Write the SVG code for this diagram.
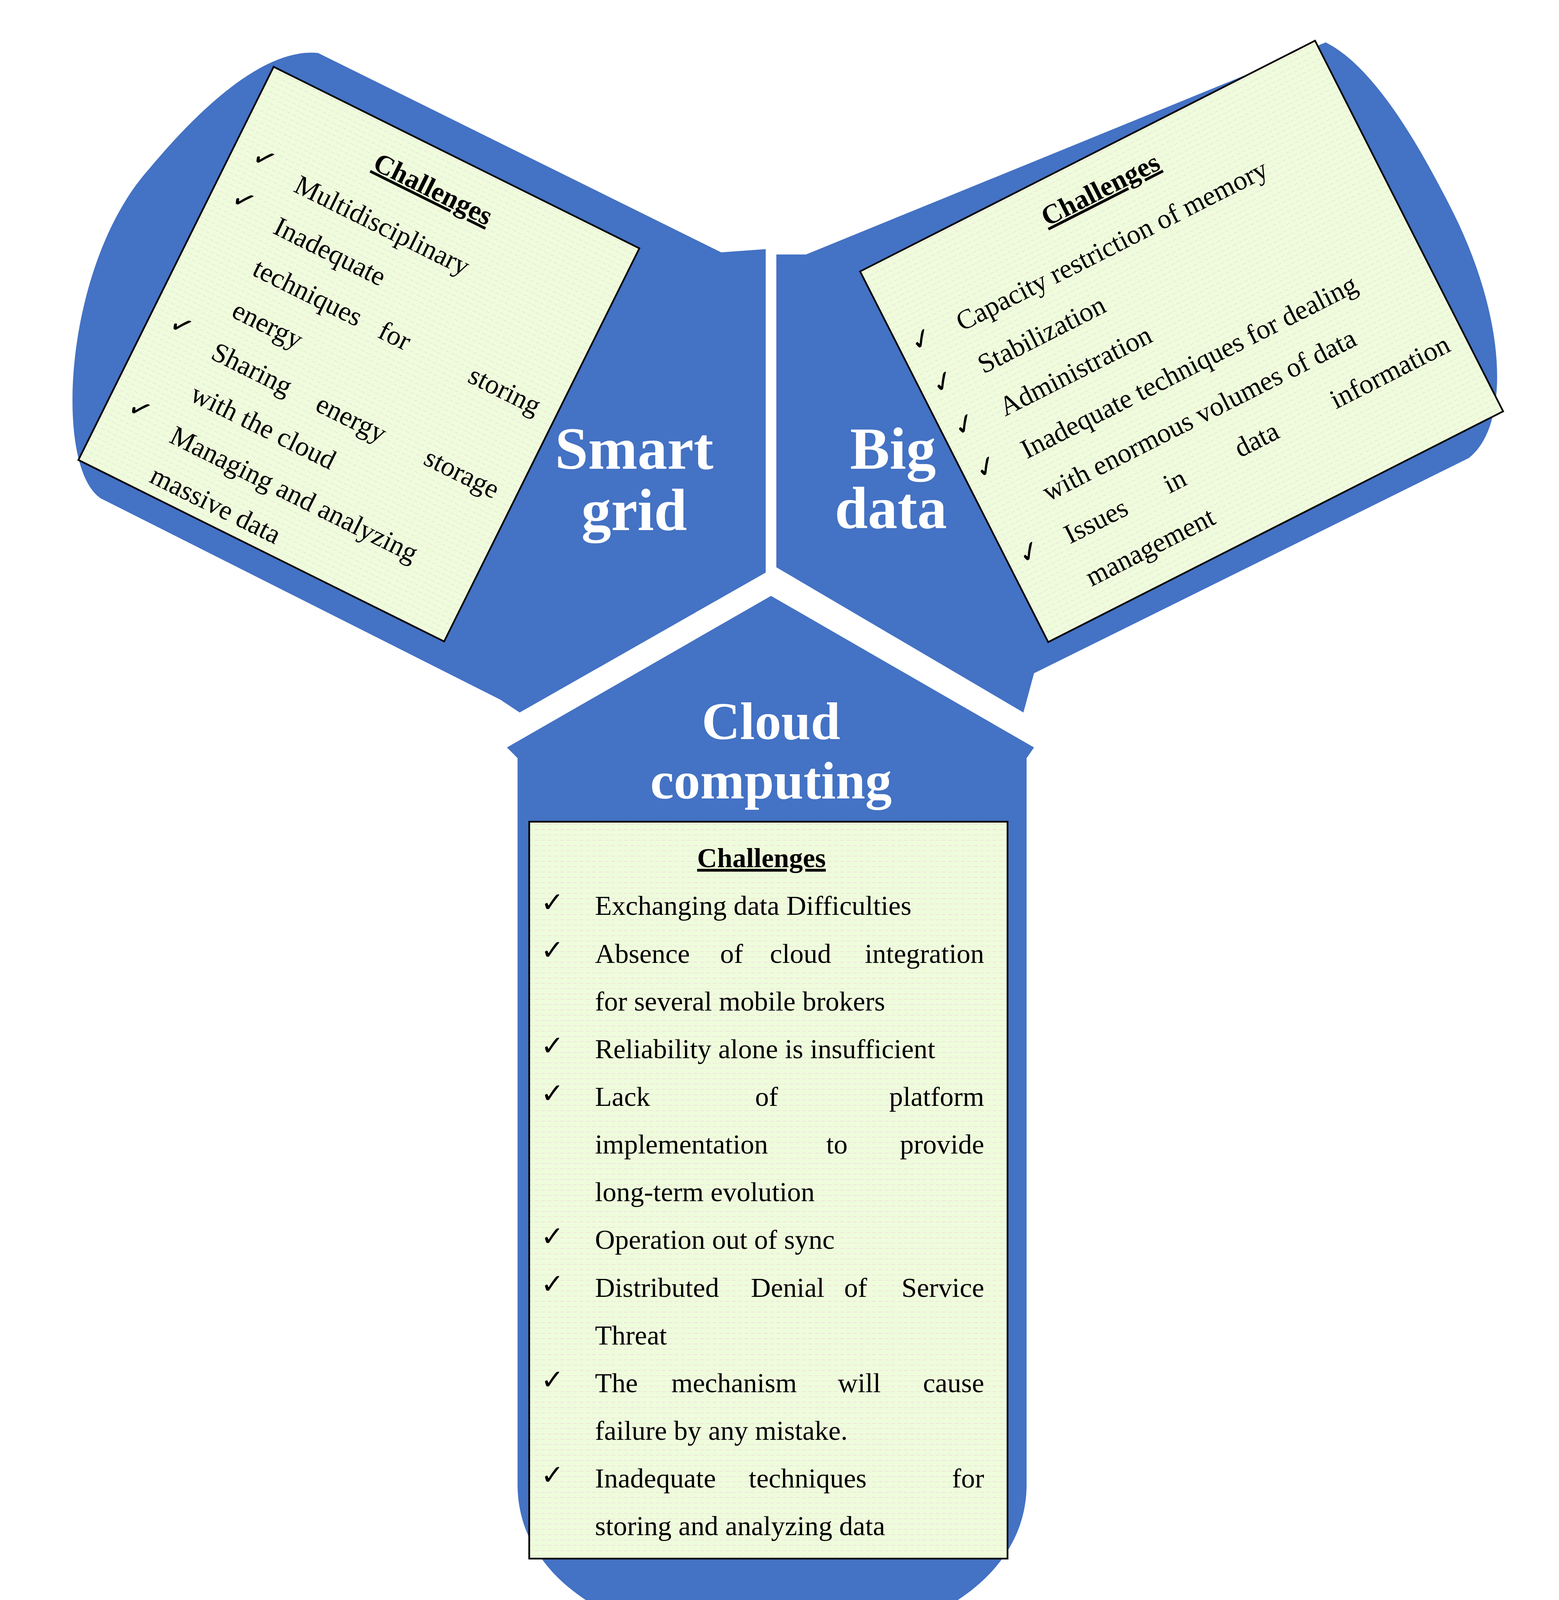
<svg xmlns="http://www.w3.org/2000/svg" width="3990" height="4257" viewBox="0 0 3990 4257">
<style>
.blob{fill:#4472C4}
.box{fill:url(#lines);stroke:#000;stroke-width:1.6}
.t{font-family:"Liberation Serif",serif;font-size:26px;fill:#000}
.h{font-family:"Liberation Serif",serif;font-size:26px;font-weight:bold;text-decoration:underline;fill:#000}
.ck{font-family:"DejaVu Sans",sans-serif;font-size:26px;font-weight:bold;fill:#000}
.ti{font-family:"Liberation Serif",serif;font-weight:bold;fill:#fff;text-anchor:middle}
.e{text-anchor:end}
</style>
<defs>
<pattern id="lines" width="6" height="5" patternUnits="userSpaceOnUse">
<rect width="6" height="5" fill="#EEFCDC"/>
<line x1="0" y1="2.5" x2="4" y2="2.5" stroke="#F0E6DC" stroke-width="0.8"/>
</pattern>
</defs>
<rect width="3990" height="4257" fill="#fff"/>
<g transform="scale(2.7143)">
<g id="smart-grid">
<path class="blob" d="M722,235 L722,540 L490,672 L472,660 L95,470 C50,440 60,250 140,160 C190,100 250,45 300,50 L680,238 Z"/>
<text class="ti" x="598" y="442" font-size="56">Smart</text>
<text class="ti" x="598" y="500" font-size="56">grid</text>
<g transform="translate(258,63) rotate(26.4)">
<rect class="box" x="0" y="0" width="385" height="414"/>
<text class="h" x="186" y="45" text-anchor="middle">Challenges</text>
<text class="ck" x="20" y="90">✓</text>
<text class="t" x="68" y="97">Multidisciplinary</text>
<text class="ck" x="20" y="134">✓</text>
<text class="t" x="68" y="141">Inadequate</text>
<text class="t" x="68" y="185">techniques</text><text class="t" x="200" y="185">for</text><text class="t e" x="367" y="185">storing</text>
<text class="t" x="68" y="229">energy</text>
<text class="ck" x="20" y="266">✓</text>
<text class="t" x="68" y="273">Sharing</text><text class="t" x="178" y="273">energy</text><text class="t e" x="367" y="273">storage</text>
<text class="t" x="68" y="317">with the cloud</text>
<text class="ck" x="20" y="354">✓</text>
<text class="t" x="68" y="361">Managing and analyzing</text>
<text class="t" x="68" y="403">massive data</text>
</g>
</g>
<g id="big-data">
<path class="blob" d="M732,240 L732,535 L965,672 L975,635 L1385,432 C1425,400 1420,300 1370,200 C1330,120 1290,60 1250,40 L760,240 Z"/>
<text class="ti" x="842" y="442" font-size="56">Big</text>
<text class="ti" x="840" y="498" font-size="56">data</text>
<g transform="translate(811,256) rotate(-26.9)">
<rect class="box" x="0" y="0" width="481" height="392"/>
<text class="h" x="237" y="42" text-anchor="middle">Challenges</text>
<text class="ck" x="12" y="92">✓</text>
<text class="t" x="60" y="94">Capacity restriction of memory</text>
<text class="ck" x="12" y="137">✓</text>
<text class="t" x="60" y="139">Stabilization</text>
<text class="ck" x="12" y="182">✓</text>
<text class="t" x="60" y="184">Administration</text>
<text class="ck" x="12" y="227">✓</text>
<text class="t" x="60" y="229">Inadequate techniques for dealing</text>
<text class="t" x="60" y="274">with enormous volumes of data</text>
<text class="ck" x="12" y="317">✓</text>
<text class="t" x="60" y="319">Issues</text><text class="t" x="165" y="319">in</text><text class="t" x="240" y="319">data</text><text class="t e" x="464" y="319">information</text>
<text class="t" x="60" y="364">management</text>
</g>
</g>
<g id="cloud-computing">
<path class="blob" d="M727,562 L975,705 L968,715 L968,1400 C968,1500 850,1555 727,1555 C605,1555 488,1500 488,1400 L488,715 L478,705 Z"/>
<text class="ti" x="727" y="697" font-size="50">Cloud</text>
<text class="ti" x="727" y="753" font-size="50">computing</text>
<rect class="box" x="499" y="775" width="451" height="695"/>
<text class="h" x="718" y="818" text-anchor="middle">Challenges</text>
<text class="ck" x="510" y="860">✓</text><text class="t" x="561" y="863">Exchanging data Difficulties</text>
<text class="ck" x="510" y="905">✓</text><text class="t" x="561" y="908">Absence</text><text class="t" x="679" y="908">of</text><text class="t" x="726" y="908">cloud</text><text class="t e" x="928" y="908">integration</text>
<text class="t" x="561" y="953">for several mobile brokers</text>
<text class="ck" x="510" y="995">✓</text><text class="t" x="561" y="998">Reliability alone is insufficient</text>
<text class="ck" x="510" y="1040">✓</text><text class="t" x="561" y="1043">Lack</text><text class="t" x="712" y="1043">of</text><text class="t e" x="928" y="1043">platform</text>
<text class="t" x="561" y="1088">implementation</text><text class="t" x="779" y="1088">to</text><text class="t e" x="928" y="1088">provide</text>
<text class="t" x="561" y="1133">long-term evolution</text>
<text class="ck" x="510" y="1175">✓</text><text class="t" x="561" y="1178">Operation out of sync</text>
<text class="ck" x="510" y="1220">✓</text><text class="t" x="561" y="1223">Distributed</text><text class="t" x="708" y="1223">Denial</text><text class="t" x="796" y="1223">of</text><text class="t e" x="928" y="1223">Service</text>
<text class="t" x="561" y="1268">Threat</text>
<text class="ck" x="510" y="1310">✓</text><text class="t" x="561" y="1313">The</text><text class="t" x="633" y="1313">mechanism</text><text class="t" x="790" y="1313">will</text><text class="t e" x="928" y="1313">cause</text>
<text class="t" x="561" y="1358">failure by any mistake.</text>
<text class="ck" x="510" y="1400">✓</text><text class="t" x="561" y="1403">Inadequate</text><text class="t" x="706" y="1403">techniques</text><text class="t e" x="928" y="1403">for</text>
<text class="t" x="561" y="1448">storing and analyzing data</text>
</g>
<g id="connectors"/>
</g>
</svg>
